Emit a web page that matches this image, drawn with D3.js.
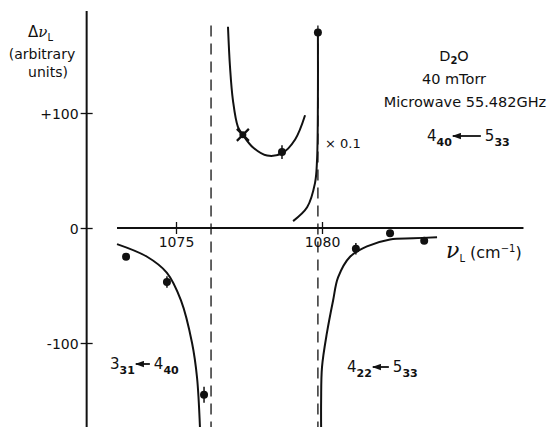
<!DOCTYPE html>
<html>
<head>
<meta charset="utf-8">
<script src="https://cdn.jsdelivr.net/npm/d3@7"></script>
<style>
  body { margin: 0; background: #fff; }
  svg { display: block; }
  text { font-family: "DejaVu Sans", "Liberation Sans", sans-serif; fill: #111; }
  .axis-line, .curve { fill: none; stroke: #111; stroke-width: 2; }
  .dash { stroke: #111; stroke-width: 1.3; stroke-dasharray: 11 7; }
  .tick-mark { stroke: #111; stroke-width: 1.3; }
</style>
</head>
<body>
<div id="chart"></div>
<script>
// axis settings
const xTicks = [1075, 1080];
const yTicks = [-100, 0, 100];
const yTickLabels = ['-100', '0', '+100'];
const xAxisExtent = [1072.98, 1086.9];
const yAxisExtent = [-173, 188.7];
const yAxisAt = 1071.94;

// resonance positions (dashed lines)
const resonances = [1076.2, 1079.86];

// measured points [x, y, error]
const upperPts = [[1078.63, 66, 6], [1079.86, 170, 0]];
const crossPt = [[1077.29, 81]];
const lowerLeftPts = [[1073.29, -25, 0], [1074.69, -47, 5], [1075.96, -145, 7]];
const lowerRightPts = [[1081.16, -18, 5], [1082.33, -4.5, 0], [1083.5, -11, 0]];

// fitted curves
const curveUpperU = [[1076.78, 175], [1076.85, 140], [1076.95, 111], [1077.12, 88], [1077.29, 81],
  [1077.64, 70], [1078.12, 63], [1078.63, 65], [1079.08, 77], [1079.42, 98]];
const curveUpperRight = [[1079.01, 6], [1079.49, 18], [1079.76, 39], [1079.83, 59], [1079.86, 111], [1079.86, 170]];
const curveLowerLeft = [[1072.98, -14], [1074.01, -25], [1074.69, -39], [1075.17, -63],
  [1075.55, -100], [1075.72, -130], [1075.82, -173]];
const curveLowerRight = [[1083.94, -8], [1083.12, -9], [1082.33, -10], [1081.54, -16], [1080.96, -25],
  [1080.55, -43], [1080.38, -63], [1080.17, -91], [1080.0, -121], [1079.97, -150], [1079.97, -173]];

const W = 550, H = 427;
const svg = d3.select('#chart').append('svg')
  .attr('width', W).attr('height', H);

const x = d3.scaleLinear().domain([1075, 1080]).range([176, 322]);
const y = d3.scaleLinear().domain([0, 100]).range([228, 113]);

svg.append('defs').append('marker')
  .attr('id', 'head')
  .attr('viewBox', '0 0 10 10')
  .attr('refX', 9).attr('refY', 5)
  .attr('markerWidth', 9).attr('markerHeight', 7)
  .attr('orient', 'auto')
  .attr('markerUnits', 'userSpaceOnUse')
  .attr('preserveAspectRatio', 'none')
  .append('path').attr('d', 'M10,5 L0,0.5 L0,9.5 Z').attr('fill', '#111');

// dashed resonance lines
svg.selectAll('.dash')
  .data(resonances)
  .enter().append('line')
  .attr('class', 'dash')
  .attr('x1', d => x(d)).attr('x2', d => x(d))
  .attr('y1', y(176)).attr('y2', y(yAxisExtent[0]));

// axes lines
svg.append('line').attr('class', 'axis-line')
  .attr('x1', x(xAxisExtent[0])).attr('x2', x(xAxisExtent[1]))
  .attr('y1', y(0)).attr('y2', y(0));
svg.append('line').attr('class', 'axis-line')
  .attr('x1', x(yAxisAt)).attr('x2', x(yAxisAt))
  .attr('y1', y(yAxisExtent[1])).attr('y2', y(yAxisExtent[0]));

// y axis ticks
const yAxis = svg.append('g')
  .attr('transform', `translate(${x(yAxisAt)},0)`)
  .call(d3.axisLeft(y).tickValues(yTicks).tickFormat((d, i) => yTickLabels[i]).tickSize(6));
yAxis.select('.domain').remove();
yAxis.selectAll('.tick line').attr('x1', -6).attr('x2', 6).attr('class', 'tick-mark');
yAxis.selectAll('.tick text')
  .attr('x', -8).attr('dy', '0.36em')
  .style('font-size', '14px').style('font-family', '"DejaVu Sans", sans-serif').attr('fill', '#111');

// x axis ticks
const xAxis = svg.append('g')
  .attr('transform', `translate(0,${y(0)})`)
  .call(d3.axisBottom(x).tickValues(xTicks).tickFormat(d3.format('d')).tickSize(6));
xAxis.select('.domain').remove();
xAxis.selectAll('.tick line').attr('y1', -6).attr('y2', 6).attr('class', 'tick-mark');
xAxis.selectAll('.tick text')
  .attr('y', 9).attr('dy', '0.71em')
  .style('font-size', '14px').style('font-family', '"DejaVu Sans", sans-serif').attr('fill', '#111');

// curves
const line = d3.line().x(d => x(d[0])).y(d => y(d[1])).curve(d3.curveCatmullRom.alpha(0.5));
[curveUpperU, curveUpperRight, curveLowerLeft, curveLowerRight].forEach(c => {
  svg.append('path').attr('class', 'curve').attr('d', line(c));
});

// points with small error bars
const pts = upperPts.concat(lowerLeftPts, lowerRightPts);
svg.selectAll('.err')
  .data(pts.filter(d => d[2] > 0))
  .enter().append('line')
  .attr('x1', d => x(d[0])).attr('x2', d => x(d[0]))
  .attr('y1', d => y(d[1] + d[2])).attr('y2', d => y(d[1] - d[2]))
  .attr('stroke', '#111').attr('stroke-width', 1.5);
svg.selectAll('.pt')
  .data(pts)
  .enter().append('circle')
  .attr('cx', d => x(d[0])).attr('cy', d => y(d[1]))
  .attr('r', 4).attr('fill', '#111');

// cross marker
crossPt.forEach(d => {
  const cx = x(d[0]), cy = y(d[1]);
  svg.append('path')
    .attr('d', `M${cx - 6},${cy - 6}L${cx + 6},${cy + 6}M${cx - 6},${cy + 6}L${cx + 6},${cy - 6}`)
    .attr('stroke', '#111').attr('stroke-width', 2.2);
  svg.append('circle').attr('cx', cx).attr('cy', cy).attr('r', 3.5).attr('fill', '#111');
});

// Δν_L label
const lab = svg.append('text').attr('x', 28).attr('y', 37).style('font-size', '15px');
lab.append('tspan').text('Δ');
lab.append('tspan').text('ν').style('font-family', '"DejaVu Serif", serif').style('font-style', 'italic');
lab.append('tspan').text('L').attr('dy', 4).style('font-size', '10px');
svg.append('text').attr('x', 42).attr('y', 59).attr('text-anchor', 'middle')
  .style('font-size', '14px').text('(arbitrary');
svg.append('text').attr('x', 48).attr('y', 77).attr('text-anchor', 'middle')
  .style('font-size', '14px').text('units)');

// ν_L (cm-1) axis label
const xl = svg.append('text').attr('x', 446).attr('y', 258);
xl.append('tspan').text('ν').style('font-family', '"DejaVu Serif", serif').style('font-style', 'italic').style('font-size', '22px');
xl.append('tspan').text('L').attr('dy', 4).style('font-size', '10px');
xl.append('tspan').text(' (cm').attr('dy', -4).style('font-size', '16px');
xl.append('tspan').text('−1').attr('dy', -6).style('font-size', '10px');
xl.append('tspan').text(')').attr('dy', 6).style('font-size', '16px');

// × 0.1
svg.append('text').attr('x', 325).attr('y', 148).style('font-size', '13px').text('× 0.1');

// info block [main, sub, rest, cx, baseline]
const info = [['D', '2', 'O', 454, 61], ['40 mTorr', null, null, 454, 84], ['Microwave 55.482GHz', null, null, 465, 107]];
info.forEach(r => {
  const t = svg.append('text').attr('x', r[3]).attr('y', r[4]).attr('text-anchor', 'middle').style('font-size', '14.5px');
  t.append('tspan').text(r[0]);
  if (r[1]) {
    t.append('tspan').text(r[1]).attr('dy', 3).style('font-size', '10px').style('font-weight', 'bold');
    t.append('tspan').text(r[2]).attr('dy', -3);
  }
});

// transition labels: a_sub <- b_sub
function transition(x0, y0, a, aSub, b, bSub, arrowLen) {
  const g = svg.append('g');
  const t1 = g.append('text').attr('x', x0).attr('y', y0).style('font-size', '15px');
  t1.append('tspan').text(a);
  t1.append('tspan').text(aSub).attr('dy', 5).style('font-size', '11px').style('font-weight', 'bold');
  const w1 = t1.node().getComputedTextLength();
  const ax = x0 + w1 + 1;
  g.append('line')
    .attr('x1', ax + arrowLen).attr('x2', ax)
    .attr('y1', y0 - 5).attr('y2', y0 - 5)
    .attr('stroke', '#111').attr('stroke-width', 1.8)
    .attr('marker-end', 'url(#head)');
  const t2 = g.append('text').attr('x', ax + arrowLen + 4).attr('y', y0).style('font-size', '15px');
  t2.append('tspan').text(b);
  t2.append('tspan').text(bSub).attr('dy', 5).style('font-size', '11px').style('font-weight', 'bold');
}
transition(427, 141, '4', '40', '5', '33', 28);
transition(110, 369, '3', '31', '4', '40', 14);
transition(347, 372, '4', '22', '5', '33', 16);
</script>
</body>
</html>
